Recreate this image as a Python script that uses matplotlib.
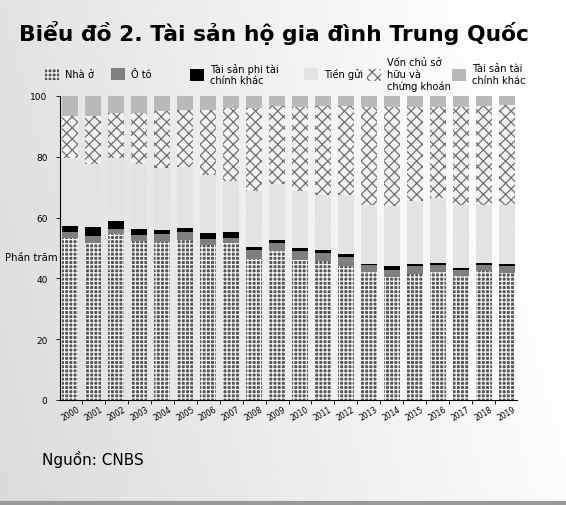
import matplotlib
matplotlib.use('Agg')
import matplotlib.pyplot as plt
import matplotlib.patches as mpatches
import numpy as np

years = [str(y) for y in range(2000, 2020)]

# phan tram, tu duoi len tren
housing = [53.3, 51.7, 54.6, 52.3, 52.0, 52.6, 51.0, 51.5, 46.4, 49.1,
           46.2, 45.8, 44.2, 42.0, 40.3, 41.4, 42.0, 40.7, 42.3, 41.7]
cars = [2.0, 2.3, 1.7, 2.0, 2.6, 2.8, 2.1, 1.9, 2.9, 2.4,
        2.8, 2.6, 2.9, 2.5, 2.6, 2.6, 2.4, 2.1, 2.1, 2.5]
other_nonfin = [2.0, 2.8, 2.5, 2.0, 1.4, 1.1, 1.7, 2.0, 0.9, 1.0,
                0.9, 1.0, 0.8, 0.3, 1.1, 0.6, 0.7, 0.5, 0.8, 0.5]
deposits = [22.3, 20.8, 20.8, 21.3, 20.2, 20.0, 19.3, 16.5, 18.7, 18.5,
            19.0, 18.1, 19.6, 19.5, 19.7, 21.0, 21.3, 20.9, 19.1, 19.5]
equity = [13.7, 15.7, 14.7, 16.7, 18.8, 19.0, 21.4, 24.2, 27.2, 25.7,
          27.6, 29.2, 29.2, 32.0, 32.8, 30.9, 30.1, 32.3, 32.4, 32.9]
other_fin = [6.7, 6.7, 5.7, 5.7, 5.0, 4.5, 4.5, 3.9, 3.9, 3.3,
             3.5, 3.3, 3.3, 3.7, 3.5, 3.5, 3.5, 3.5, 3.3, 2.9]

labels = ['Nhà ở', 'Ô tô', 'Tài sản phi tài\nchính khác', 'Tiền gửi',
          'Vốn chủ sở\nhữu và\nchứng khoán', 'Tài sản tài\nchính khác']

plt.rcParams['font.family'] = ['DejaVu Sans']
plt.rcParams['hatch.linewidth'] = 0.9

fig = plt.figure(figsize=(5.66, 5.06), dpi=100)

# nen xam chuyen mau
bg = fig.add_axes([0, 0, 1, 1], zorder=-10)
gx = np.linspace(0, 1, 256)[None, :]
gy = np.linspace(0, 1, 256)[:, None]
grad = 0.86 + 0.13 * gx + 0.03 * gy
grad = np.clip(grad, 0, 1)
bg.imshow(np.dstack([grad, grad, grad]), aspect='auto', extent=[0, 1, 0, 1],
          origin='lower')
bg.axis('off')
bg.axhline(0.003, color='#9a9a9a', lw=3)

ax = fig.add_axes([60/566, 1-401/506, 457/566, 304/506])
ax.set_facecolor('none')

x = np.arange(len(years))
w = 0.7
series = [housing, cars, other_nonfin, deposits, equity, other_fin]
styles = [
    dict(facecolor='#555555', edgecolor='#f4f4f4', hatch='++++'),
    dict(facecolor='#7f7f7f', edgecolor='#7f7f7f'),
    dict(facecolor='black', edgecolor='black'),
    dict(facecolor='#e3e3e5', edgecolor='#e3e3e5'),
    dict(facecolor='#f2f2f2', edgecolor='#707070', hatch='xxx'),
    dict(facecolor='#b9b9b9', edgecolor='#b9b9b9'),
]
bottom = np.zeros(len(years))
handles = []
for vals, st, lab in zip(series, styles, labels):
    ax.bar(x, vals, w, bottom=bottom, linewidth=0, **st)
    bottom += np.array(vals)
    handles.append(mpatches.Patch(linewidth=0, label=lab, **st))

ax.set_xlim(-0.45, 19.45)
ax.set_ylim(0, 100)
ax.set_yticks([0, 20, 40, 60, 80, 100])
ax.tick_params(axis='y', labelsize=6.5, length=3, width=0.6, pad=6)
ax.set_xticks(x)
ax.set_xticklabels(years, rotation=30, fontsize=5.5)
ax.tick_params(axis='x', length=0, pad=3)
ax.set_xticks(x[:-1] + 0.5, minor=True)
ax.tick_params(axis='x', which='minor', length=3, width=0.6)
for s in ['top', 'right']:
    ax.spines[s].set_visible(False)
for s in ['left', 'bottom']:
    ax.spines[s].set_linewidth(0.8)

fig.text(5/566, 1-258/506, 'Phần trăm', fontsize=7.3, va='center')

fig.text(19/566, 1-33/506, 'Biểu đồ 2. Tài sản hộ gia đình Trung Quốc',
         fontsize=15.7, fontweight='bold', va='center')

# chu giai: moi muc mot vi tri rieng
leg_x = [45, 111, 190, 304, 367, 452]
for h, lx in zip(handles, leg_x):
    fig.legend(handles=[h], loc='center left',
               bbox_to_anchor=(lx/566, 1-75/506), frameon=False,
               fontsize=7.1, handlelength=1.45, handleheight=1.45,
               handletextpad=0.6, borderpad=0, borderaxespad=0)

fig.text(42/566, 1-460/506, 'Nguồn: CNBS', fontsize=11, va='center')

fig.savefig('out.png', dpi=100)
